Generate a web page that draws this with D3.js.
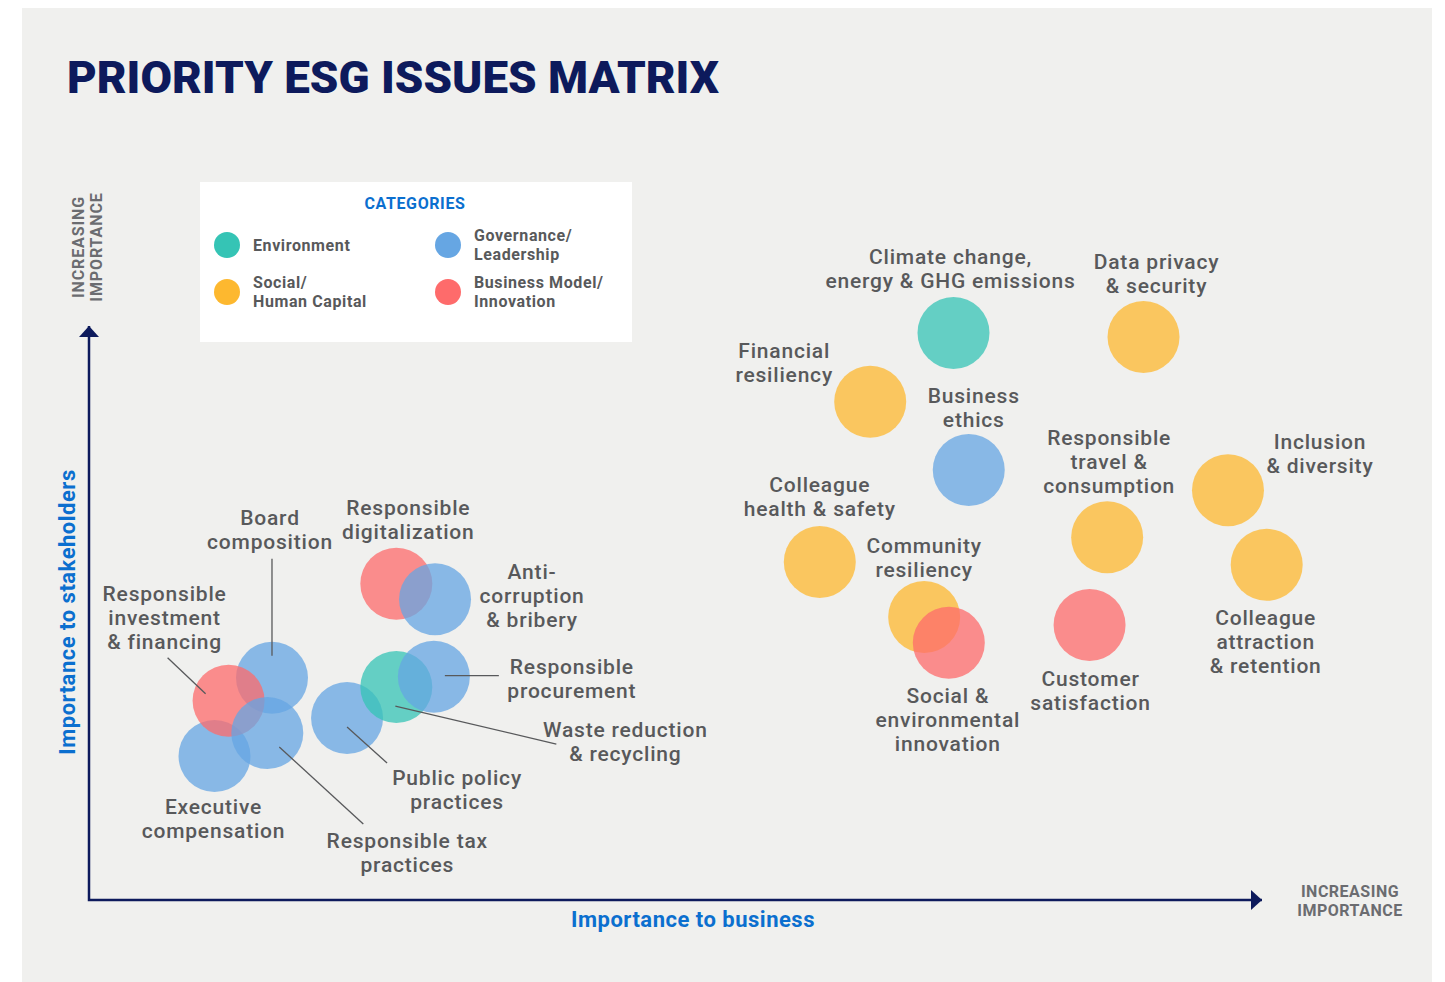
<!DOCTYPE html>
<html>
<head>
<meta charset="utf-8">
<script src="https://cdn.jsdelivr.net/npm/d3@7"></script>
<style>
  body { margin: 0; background: #fff; }
  text { font-family: Roboto, "Open Sans", sans-serif; }
</style>
</head>
<body>
<div id="chart"></div>
<script>
// issues, category and position on the two importance axes (0-100)
var issues = ["Climate change, energy & GHG emissions", "Data privacy & security", "Financial resiliency",
  "Business ethics", "Inclusion & diversity", "Responsible travel & consumption", "Colleague health & safety",
  "Colleague attraction & retention", "Community resiliency", "Social & environmental innovation",
  "Customer satisfaction", "Responsible digitalization", "Anti-corruption & bribery", "Executive compensation",
  "Board composition", "Responsible investment & financing", "Responsible tax practices",
  "Public policy practices", "Waste reduction & recycling", "Responsible procurement"];
var issueCategory = ["env", "soc", "soc", "gov", "soc", "soc", "soc", "soc", "soc", "bus", "bus",
  "bus", "gov", "gov", "gov", "bus", "gov", "gov", "env", "gov"];
var businessImportance = [73.7, 89.9, 66.6, 75.0, 97.1, 86.8, 62.3, 100.4, 71.2, 73.3, 85.3,
  26.2, 29.5, 10.7, 15.6, 11.9, 15.2, 22.0, 26.2, 29.4];
var stakeholderImportance = [98.8, 98.1, 86.8, 74.9, 71.4, 63.2, 58.9, 58.4, 49.3, 44.8, 47.9,
  55.1, 52.4, 25.1, 38.7, 34.7, 29.1, 31.7, 37.1, 38.9];

var categories = ["env", "gov", "soc", "bus"];
var categoryNames = [["Environment"], ["Governance/", "Leadership"], ["Social/", "Human Capital"], ["Business Model/", "Innovation"]];
var categoryColors = ["#35c4b5", "#66a6e3", "#fdb82f", "#fe6b6b"];

// label placement: text lines, offset of first line from the bubble, optional leader line
var labelLayout = {
  "Climate change, energy & GHG emissions": {lines: ["Climate change,", "energy & GHG emissions"], dx: -3, dy: -76},
  "Data privacy & security": {lines: ["Data privacy", "& security"], dx: 13, dy: -75},
  "Financial resiliency": {lines: ["Financial", "resiliency"], dx: -86, dy: -51},
  "Business ethics": {lines: ["Business", "ethics"], dx: 5, dy: -75},
  "Inclusion & diversity": {lines: ["Inclusion", "& diversity"], dx: 92, dy: -49},
  "Responsible travel & consumption": {lines: ["Responsible", "travel &", "consumption"], dx: 2, dy: -100},
  "Colleague health & safety": {lines: ["Colleague", "health & safety"], dx: 0, dy: -77},
  "Colleague attraction & retention": {lines: ["Colleague", "attraction", "& retention"], dx: -1, dy: 53},
  "Community resiliency": {lines: ["Community", "resiliency"], dx: 0, dy: -72},
  "Social & environmental innovation": {lines: ["Social &", "environmental", "innovation"], dx: -1, dy: 53},
  "Customer satisfaction": {lines: ["Customer", "satisfaction"], dx: 1, dy: 53},
  "Responsible digitalization": {lines: ["Responsible", "digitalization"], dx: 12, dy: -76},
  "Anti-corruption & bribery": {lines: ["Anti-", "corruption", "& bribery"], dx: 97, dy: -28},
  "Executive compensation": {lines: ["Executive", "compensation"], dx: -1, dy: 51},
  "Board composition": {lines: ["Board", "composition"], dx: -2, dy: -160, lead: [0, -119, 0, -22]},
  "Responsible investment & financing": {lines: ["Responsible", "investment", "& financing"], dx: -64, dy: -107, lead: [-61, -43, -23, -7]},
  "Responsible tax practices": {lines: ["Responsible tax", "practices"], dx: 140, dy: 108, lead: [12, 14, 96, 91]},
  "Public policy practices": {lines: ["Public policy", "practices"], dx: 110, dy: 59, lead: [0, 9, 40, 45]},
  "Waste reduction & recycling": {lines: ["Waste reduction", "& recycling"], dx: 229, dy: 42, lead: [-1, 19, 160, 57]},
  "Responsible procurement": {lines: ["Responsible", "procurement"], dx: 138, dy: -10, lead: [11, -1, 65, -1]}
};

var W = 1445, H = 982;
var navy = "#0d1a5c", grey = "#58595b", blue = "#0b6fcf";

var svg = d3.select("#chart").append("svg")
  .attr("width", W).attr("height", H);

svg.append("rect").attr("x", 22).attr("y", 8).attr("width", 1410).attr("height", 974).attr("fill", "#f0f0ee");

// title
svg.append("text").attr("x", 67).attr("y", 93)
  .attr("font-size", 44).attr("font-weight", 900).attr("fill", navy)
  .attr("textLength", 652).attr("lengthAdjust", "spacingAndGlyphs")
  .text("PRIORITY ESG ISSUES MATRIX");

var x = d3.scaleLinear().domain([0, 100]).range([89, 1262]);
var y = d3.scaleLinear().domain([0, 100]).range([900, 326]);
var color = d3.scaleOrdinal().domain(categories).range(categoryColors);

// axes with arrow heads
svg.append("path")
  .attr("d", "M" + x(0) + "," + y(100) + "V" + y(0) + "H" + x(100))
  .attr("fill", "none").attr("stroke", navy).attr("stroke-width", 2.5);
svg.append("path")
  .attr("d", "M" + (x(0) - 10) + "," + (y(100) + 11) + "L" + x(0) + "," + y(100) + "L" + (x(0) + 10) + "," + (y(100) + 11) + "Z")
  .attr("fill", navy);
svg.append("path")
  .attr("d", "M" + (x(100) - 11) + "," + (y(0) - 10) + "L" + x(100) + "," + y(0) + "L" + (x(100) - 11) + "," + (y(0) + 10) + "Z")
  .attr("fill", navy);

svg.append("text").attr("transform", "translate(75,612) rotate(-90)")
  .attr("text-anchor", "middle").attr("font-size", 22).attr("font-weight", 700).attr("fill", blue)
  .attr("letter-spacing", 0.5)
  .text("Importance to stakeholders");
svg.append("text").attr("x", 693).attr("y", 927)
  .attr("text-anchor", "middle").attr("font-size", 22).attr("font-weight", 700).attr("fill", blue)
  .attr("letter-spacing", 0.5)
  .text("Importance to business");

var inc = svg.append("text").attr("transform", "translate(84,247) rotate(-90)")
  .attr("text-anchor", "middle").attr("font-size", 16).attr("font-weight", 700).attr("fill", "#6b6c70")
  .attr("letter-spacing", 0.9);
inc.append("tspan").attr("x", 0).attr("dy", 0).text("INCREASING");
inc.append("tspan").attr("x", 0).attr("dy", 18).text("IMPORTANCE");

var inc2 = svg.append("text").attr("x", 1350).attr("y", 897)
  .attr("text-anchor", "middle").attr("font-size", 16).attr("font-weight", 700).attr("fill", "#6b6c70")
  .attr("letter-spacing", 0.5);
inc2.append("tspan").attr("x", 1350).attr("dy", 0).text("INCREASING");
inc2.append("tspan").attr("x", 1350).attr("dy", 19).text("IMPORTANCE");

// legend
var legend = svg.append("g");
legend.append("rect").attr("x", 200).attr("y", 182).attr("width", 432).attr("height", 160).attr("fill", "#fff");
legend.append("text").attr("x", 415).attr("y", 209).attr("text-anchor", "middle")
  .attr("font-size", 16).attr("font-weight", 700).attr("fill", blue).attr("letter-spacing", 0.6).text("CATEGORIES");
var legendPos = [[227, 245], [448, 245], [227, 292], [448, 292]];
categories.forEach(function(c, i) {
  var p = legendPos[i];
  legend.append("circle").attr("cx", p[0]).attr("cy", p[1]).attr("r", 13).attr("fill", color(c));
  var names = categoryNames[i];
  var t = legend.append("text").attr("font-size", 16).attr("font-weight", 700).attr("fill", grey)
    .attr("letter-spacing", 0.6);
  names.forEach(function(n, j) {
    t.append("tspan").attr("x", p[0] + 26)
      .attr("y", p[1] + 5.5 - (names.length - 1) * 9.5 + j * 19).text(n);
  });
});

// bubbles
var data = issues.map(function(d, i) {
  return {name: d, cat: issueCategory[i], bx: businessImportance[i], sy: stakeholderImportance[i]};
});

svg.append("g").selectAll("circle")
  .data(data).enter().append("circle")
  .attr("cx", function(d) { return x(d.bx); })
  .attr("cy", function(d) { return y(d.sy); })
  .attr("r", 36)
  .attr("fill", function(d) { return color(d.cat); })
  .attr("fill-opacity", 0.75);

// leader lines
svg.append("g").selectAll("line")
  .data(data.filter(function(d) { return labelLayout[d.name].lead; })).enter().append("line")
  .attr("x1", function(d) { return x(d.bx) + labelLayout[d.name].lead[0]; })
  .attr("y1", function(d) { return y(d.sy) + labelLayout[d.name].lead[1]; })
  .attr("x2", function(d) { return x(d.bx) + labelLayout[d.name].lead[2]; })
  .attr("y2", function(d) { return y(d.sy) + labelLayout[d.name].lead[3]; })
  .attr("stroke", grey).attr("stroke-width", 1.3);

// labels
var labels = svg.append("g").selectAll("text")
  .data(data).enter().append("text")
  .attr("text-anchor", "middle").attr("font-size", 21).attr("font-weight", 500).attr("fill", grey)
  .attr("letter-spacing", 0.8);
labels.each(function(d) {
  var L = labelLayout[d.name], t = d3.select(this);
  L.lines.forEach(function(line, j) {
    t.append("tspan")
      .attr("x", x(d.bx) + L.dx)
      .attr("y", y(d.sy) + L.dy + j * 24 + 7.5)
      .text(line);
  });
});
</script>
</body>
</html>
